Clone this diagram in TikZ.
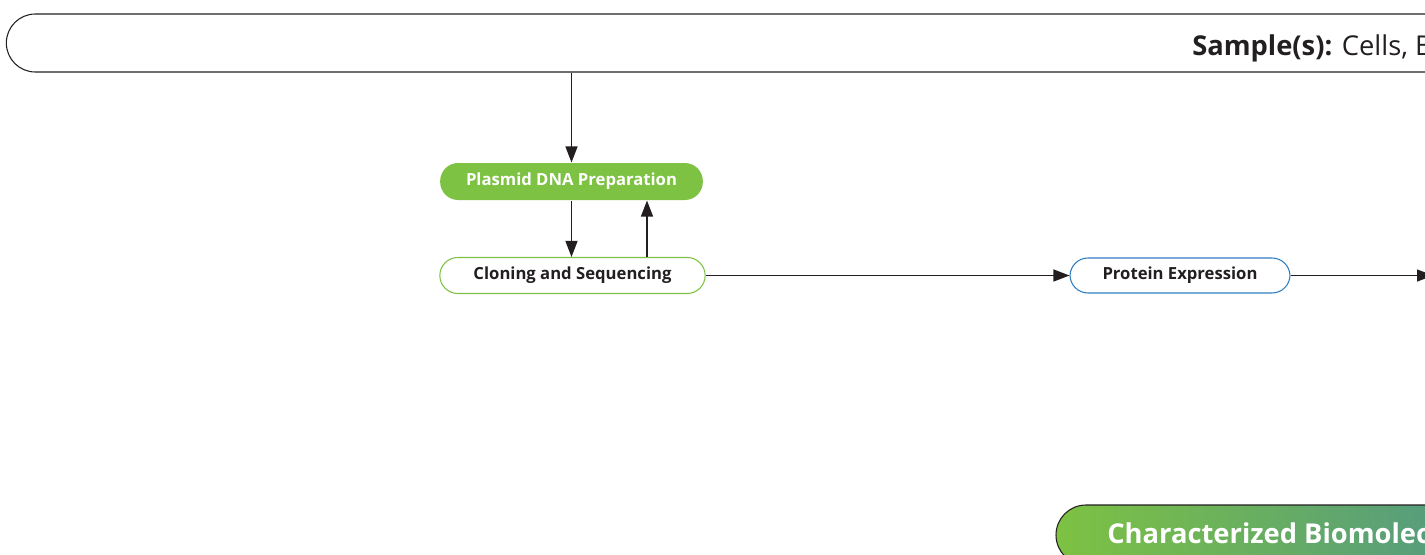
\documentclass[tikz,border=0pt]{standalone}
\usepackage{fontspec}
\setmainfont{Open Sans}
\usetikzlibrary{arrows.meta}

\definecolor{geGreen}{HTML}{7DC242}
\definecolor{geBlue}{HTML}{2E7DC3}
\definecolor{geTeal}{HTML}{4A918F}
\definecolor{geText}{HTML}{231F20}

\tikzset{
  stepbox/.style={rectangle, rounded corners=13.5pt, minimum height=27pt, inner sep=0pt,
    font=\bfseries\fontsize{12.5}{14}\selectfont, text=geText, line width=0.8pt},
  flow/.style={-{Triangle[length=12pt,width=9pt]}, line width=1pt, draw=geText},
}

\begin{document}
\begin{tikzpicture}[x=0.75pt,y=-0.75pt]
  \useasboundingbox (0,0) rectangle (1425,554);
  \clip (0,0) rectangle (1425,554);

  % sample bar
  \node[draw=geText, line width=0.8pt, rectangle, rounded corners=21.75pt,
        minimum width=1120pt, minimum height=43.5pt] (samplebar) at (753,43) {};
  \node[anchor=base west, text=geText, font=\fontsize{20.5}{24}\selectfont, inner sep=0pt]
        (sampletext) at (1192,55) {\textbf{Sample(s):} Cells, Blood};

  % steps
  \node[stepbox, fill=geGreen, text=white, minimum width=197pt, minimum height=27.75pt] (plasmid) at (571.5,181.5) {Plasmid DNA Preparation};
  \node[stepbox, draw=geGreen, fill=white, minimum width=199pt] (cloning) at (572.5,275.5) {Cloning and Sequencing};
  \node[stepbox, draw=geBlue, fill=white, minimum width=165pt, minimum height=26.25pt] (protein) at (1180,275.5) {Protein Expression};

  % result
  \node[draw=geText, line width=0.8pt, rectangle, rounded corners=22.5pt,
        left color=geGreen, right color=geTeal,
        minimum width=375pt, minimum height=45pt] (biomol) at (1306,535) {};
  \node[anchor=base west, text=white, font=\bfseries\fontsize{20.5}{24}\selectfont, inner sep=0pt]
        (biotext) at (1107,543) {Characterized Biomolecule};

  % arrows
  \coordinate (upx) at (647,0);
  \coordinate (exit) at (1433,275.5);
  \draw[flow] (samplebar.south -| plasmid.north) -- (plasmid.north);
  \draw[flow] (plasmid.south) -- (plasmid.south |- cloning.north);
  \draw[flow] (upx |- cloning.north) -- (upx |- plasmid.south);
  \draw[flow] (cloning.east) -- (protein.west);
  \draw[flow] (protein.east) -- (exit);
\end{tikzpicture}
\end{document}
